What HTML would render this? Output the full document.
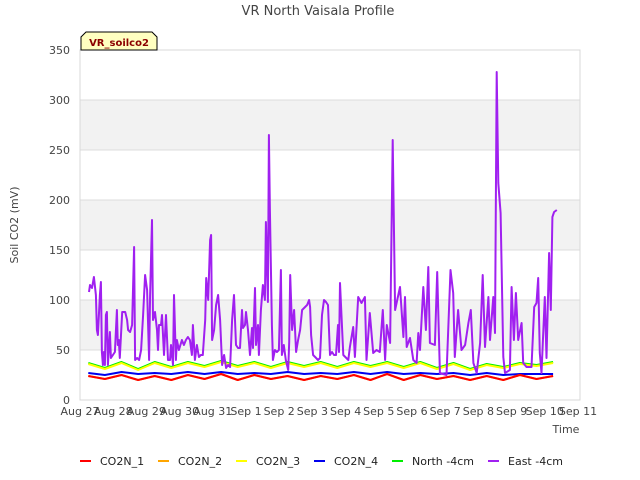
<!DOCTYPE html>
<html><head><meta charset="utf-8"><style>
body{margin:0;background:#fff;}
svg{display:block;font-family:"DejaVu Sans","Liberation Sans",sans-serif;}
</style></head><body>
<svg id="chart" width="640" height="480">
<text x="318" y="15" text-anchor="middle" font-size="13" fill="#444">VR North Vaisala Profile</text>
<g id="grid"></g>
<g id="axes"></g>
<g id="series"></g>
<text transform="translate(18,225) rotate(-90)" text-anchor="middle" font-size="11" fill="#444">Soil CO2 (mV)</text>
<text x="566" y="433" text-anchor="middle" font-size="11" fill="#444">Time</text>
<g>
<path d="M81,50 L81,37 L86,32 L152,32 L157,37 L157,50 Z" fill="#ffffc0" stroke="#000" stroke-width="1"/>
<text x="119" y="46" text-anchor="middle" font-size="10" font-weight="bold" fill="#8b0000">VR_soilco2</text>
</g>
<g id="legend"></g>
</svg>
<script>
const yTicks=[0,50,100,150,200,250,300,350];
const xTickLabels=["Aug 27","Aug 28","Aug 29","Aug 30","Aug 31","Sep 1","Sep 2","Sep 3","Sep 4","Sep 5","Sep 6","Sep 7","Sep 8","Sep 9","Sep 10","Sep 11"];
const smoothT=[0.25,0.75,1.25,1.75,2.25,2.75,3.25,3.75,4.25,4.75,5.25,5.75,6.25,6.75,7.25,7.75,8.25,8.75,9.25,9.75,10.25,10.75,11.25,11.75,12.25,12.75,13.25,13.75,14.25];
const co2n1=[24,21,25,20,24,20,25,21,26,20,25,21,24,20,24,21,25,20,26,20,25,21,24,20,24,20,25,21,24];
const co2n2=[24,21,25,20,24,20,25,21,26,20,25,21,24,20,24,21,25,20,26,20,25,21,24,20,24,20,25,21,24];
const co2n3=[36,31,37,30,37,32,37,33,38,33,37,32,37,33,37,32,37,33,37,32,37,31,36,30,35,32,36,34,37];
const co2n4=[27,25,28,26,27,26,28,26,28,26,27,26,28,26,27,26,28,26,28,26,27,26,27,25,27,25,26,26,26];
const north4=[37,32,38,31,38,33,38,34,39,34,38,33,38,34,38,33,38,34,38,33,38,32,37,31,36,33,37,35,38];
const eastT=[.27,.30,.36,.42,.48,.51,.54,.60,.63,.66,.69,.72,.75,.78,.81,.84,.90,.93,.99,1.05,1.11,1.14,1.17,1.20,1.27,1.36,1.42,1.45,1.51,1.57,1.63,1.66,1.72,1.78,1.84,1.90,1.96,2.02,2.08,2.11,2.17,2.20,2.26,2.32,2.35,2.38,2.44,2.47,2.53,2.59,2.65,2.71,2.74,2.80,2.83,2.89,2.92,2.98,3.07,3.13,3.19,3.25,3.31,3.37,3.40,3.46,3.52,3.58,3.64,3.70,3.77,3.80,3.86,3.92,3.95,3.98,4.04,4.10,4.16,4.22,4.28,4.34,4.40,4.46,4.52,4.58,4.64,4.70,4.76,4.82,4.88,4.91,4.97,5.00,5.06,5.12,5.18,5.21,5.27,5.30,5.36,5.39,5.45,5.51,5.57,5.60,5.66,5.69,5.72,5.78,5.81,5.87,5.93,5.99,6.05,6.08,6.14,6.20,6.27,6.30,6.33,6.39,6.45,6.51,6.57,6.63,6.69,6.78,6.84,6.90,6.93,6.96,7.02,7.11,7.17,7.23,7.29,7.35,7.41,7.47,7.53,7.59,7.65,7.71,7.77,7.80,7.83,7.93,8.08,8.13,8.23,8.28,8.38,8.48,8.58,8.63,8.73,8.83,8.93,9.03,9.12,9.19,9.24,9.34,9.42,9.49,9.64,9.74,9.79,9.84,9.94,10.04,10.14,10.19,10.24,10.34,10.42,10.49,10.54,10.69,10.76,10.84,11.04,11.16,11.24,11.29,11.39,11.49,11.60,11.70,11.77,11.85,11.95,12.05,12.13,12.20,12.30,12.35,12.45,12.50,12.55,12.60,12.67,12.75,12.80,12.95,13.00,13.07,13.13,13.20,13.30,13.35,13.45,13.60,13.68,13.75,13.80,13.85,13.90,14.00,14.05,14.13,14.18,14.23,14.28,14.36];
const east4=[108,115,112,123,105,70,65,105,118,48,35,48,35,85,88,35,68,42,45,48,90,55,60,42,88,88,80,70,68,75,153,40,42,40,50,85,125,110,40,105,180,80,88,70,50,75,75,85,45,85,40,40,55,35,105,40,60,50,60,55,60,63,60,45,75,40,55,43,45,45,80,122,100,160,165,60,70,95,105,80,35,45,32,35,33,80,105,55,52,52,90,72,75,88,70,45,72,52,112,55,75,45,90,115,100,178,98,265,190,75,40,50,48,50,130,45,55,40,30,58,125,70,90,48,60,70,90,93,95,100,93,65,45,42,40,42,85,100,98,95,45,48,45,45,75,48,117,45,40,53,73,43,103,97,103,40,87,47,50,48,90,40,75,57,260,90,113,63,103,53,62,40,37,67,50,113,70,133,57,55,128,27,25,130,107,43,90,50,55,77,90,37,27,57,125,53,103,60,103,67,328,217,187,43,27,30,113,60,107,60,77,37,33,33,93,97,122,47,27,103,42,147,90,183,188,190];

const NS='http://www.w3.org/2000/svg';
const X0=80,X1=580,Y0=400,Y1=50,DAYPX=33.2;
function xs(d){return X0+d*DAYPX;}
function ys(v){return Y0-(v/350)*(Y0-Y1);}
function mk(tag,attrs,parent){const e=document.createElementNS(NS,tag);for(const k in attrs)e.setAttribute(k,attrs[k]);parent.appendChild(e);return e;}
const grid=document.getElementById('grid'),axes=document.getElementById('axes'),series=document.getElementById('series'),legend=document.getElementById('legend');
for(let i=0;i<yTicks.length-1;i++){
  if(i%2===0) continue;
  const b=mk('rect',{x:X0,y:ys(yTicks[i+1]),width:X1-X0,height:ys(yTicks[i])-ys(yTicks[i+1]),fill:'#f2f2f2'},grid);
  
  
}
yTicks.forEach(v=>{
  const l=mk('line',{x1:X0,x2:X1,y1:ys(v),y2:ys(v),stroke:'#dcdcdc','stroke-width':1},grid);
  
  
  const t=mk('text',{x:X0-10,y:ys(v)+4,'text-anchor':'end','font-size':11,fill:'#444'},axes);
  t.textContent=v;
  
  
});
const fr=mk('rect',{x:X0,y:Y1,width:X1-X0,height:Y0-Y1,fill:'none',stroke:'#d8d8d8','stroke-width':1},axes);


xTickLabels.forEach((s,i)=>{
  const t=mk('text',{x:xs(i),y:415,'text-anchor':'middle','font-size':11,fill:'#444'},axes);
  t.textContent=s;
  
  
});
function line(T,V,color,name,w){
  const d=T.map((t,i)=>(i?'L':'M')+xs(t).toFixed(1)+','+ys(V[i]).toFixed(1)).join(' ');
  const p=mk('path',{d:d,fill:'none',stroke:color,'stroke-width':w,'stroke-linejoin':'round'},series);
  
  
}
line(smoothT,north4,'#00ee00','line-north-4cm',2);
line(smoothT,co2n3,'#ffff00','line-co2n-3',2);
line(smoothT,co2n4,'#0000ee','line-co2n-4',2);
line(smoothT,co2n2,'#ffa500','line-co2n-2',2);
line(smoothT,co2n1,'#ff0000','line-co2n-1',2);
line(eastT,east4,'#a020f0','line-east-4cm',2);
const leg=[['CO2N_1','#ff0000',80],['CO2N_2','#ffa500',158],['CO2N_3','#ffff00',236],['CO2N_4','#0000ee',314],['North -4cm','#00ee00',392],['East -4cm','#a020f0',488]];
leg.forEach(([s,c,x])=>{
  const g=mk('g',{},legend);
  
  
  mk('line',{x1:x,x2:x+11,y1:461,y2:461,stroke:c,'stroke-width':2},g);
  const t=mk('text',{x:x+20,y:465,'font-size':11,fill:'#222'},g);
  t.textContent=s;
});
</script>
</body></html>
